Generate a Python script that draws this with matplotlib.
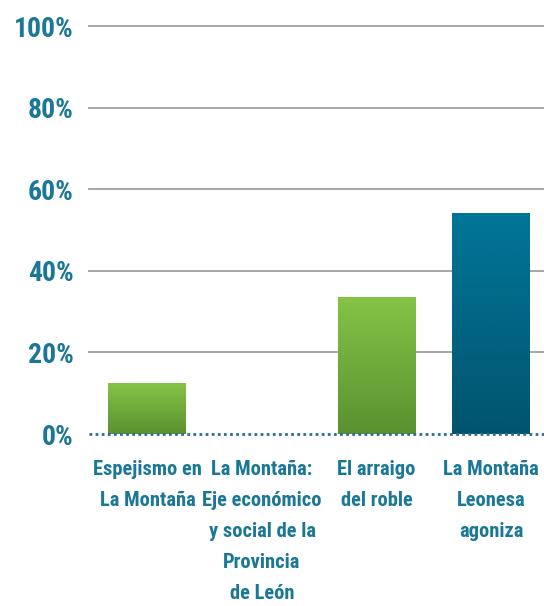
import matplotlib.pyplot as plt
import numpy as np
from matplotlib.colors import LinearSegmentedColormap

categories = ["Espejismo en\nLa Montaña", "La Montaña:\nEje económico\ny social de la\nProvincia\nde León",
              "El arraigo\ndel roble", "La Montaña\nLeonesa\nagoniza"]
values = [12.5, 0, 33.6, 54.2]
bar_colors = [("#84c446", "#5a9130"), ("#84c446", "#5a9130"), ("#84c446", "#5a9130"), ("#017699", "#01546e")]
yticks = [0, 20, 40, 60, 80, 100]

text_color = "#1a7896"
font = "Roboto Condensed"

fig = plt.figure(figsize=(5.44, 6.06), dpi=100)
ax = fig.add_axes([0.1636, 0.2838, 0.8364, 0.673])

for y in yticks[1:]:
    ax.axhline(y, color="#a6a6a6", lw=1.4, zorder=1, clip_on=False)

bars = ax.bar(range(len(values)), values, width=0.68, color="none", zorder=2)
for b, (top, bot) in zip(bars, bar_colors):
    if b.get_height() <= 0:
        continue
    cmap = LinearSegmentedColormap.from_list("g", [bot, top])
    grad = np.linspace(0, 1, 256).reshape(-1, 1)
    x0, w, h = b.get_x(), b.get_width(), b.get_height()
    im = ax.imshow(grad, cmap=cmap, origin="lower", aspect="auto",
                   extent=[x0, x0 + w, 0, h], zorder=2)
    im.set_clip_path(b)

ax.axhline(0, color="#2b6e95", lw=2, ls=(0, (1, 1.2)), zorder=3, clip_on=False)
ax.set_xlim(-0.51, 3.46)
ax.set_ylim(0, 100)

ax.set_yticks(yticks)
ax.set_yticklabels([f"{v}%" for v in yticks], fontsize=20, fontweight="bold",
                   color=text_color, fontfamily=font)
ax.set_xticks(range(len(categories)))
ax.set_xticklabels(categories, fontsize=14.8, fontweight="bold", color=text_color,
                   fontfamily=font, linespacing=1.8, va="top")
ax.tick_params(axis="y", length=0, pad=11)
ax.tick_params(axis="x", length=0, pad=18.5)
for s in ax.spines.values():
    s.set_visible(False)

fig.savefig("out.png", dpi=100)
